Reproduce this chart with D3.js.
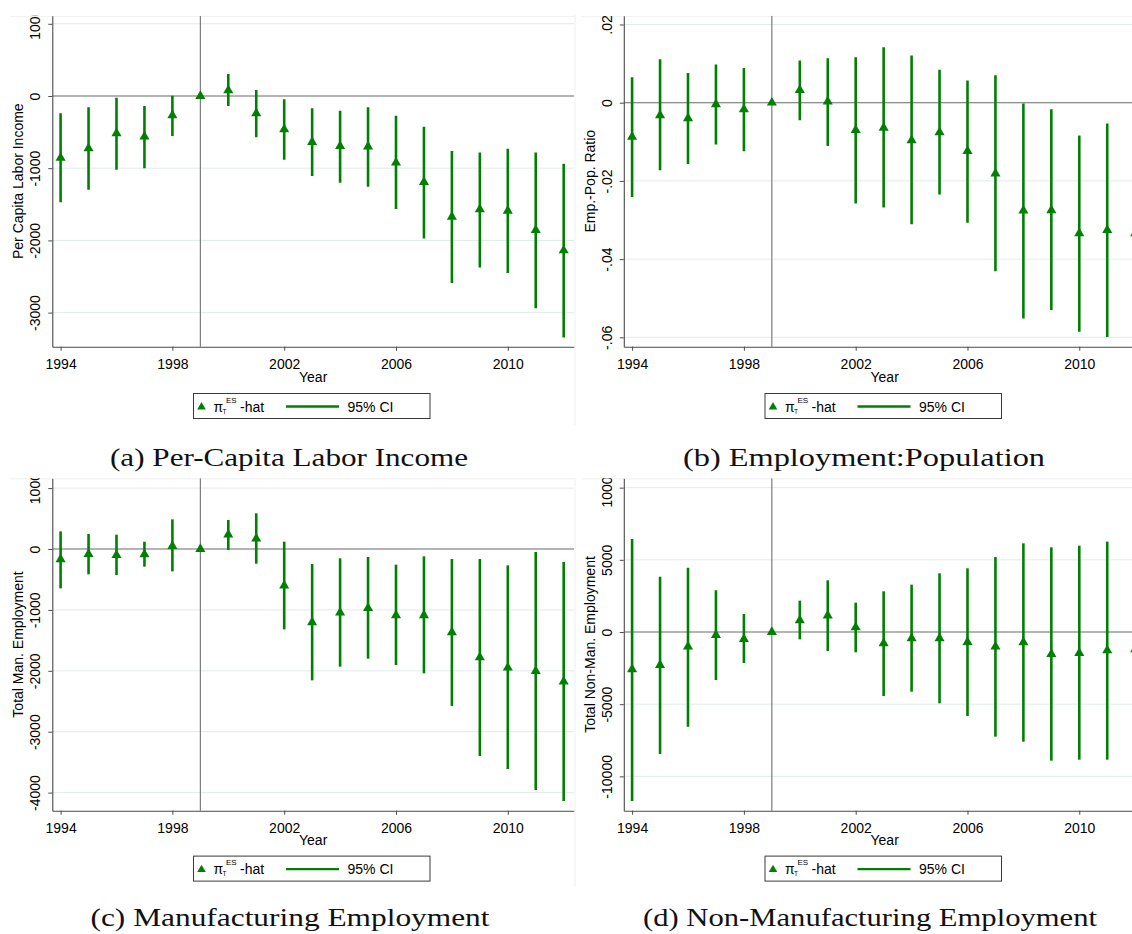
<!DOCTYPE html>
<html><head><meta charset="utf-8">
<script src="https://cdn.jsdelivr.net/npm/d3@7"></script>
<style>body{margin:0;background:#fff}svg{display:block}</style>
</head><body>
<svg id="c" width="1132" height="934"></svg>
<script>
// ---------------- data ----------------
const years = [1994,1995,1996,1997,1998,1999,2000,2001,2002,2003,2004,2005,2006,2007,2008,2009,2010,2011,2012];
const xTickYears = [1994,1998,2002,2006,2010];
const eventYear = 1999;

const incomeEst = [-855,-725,-517,-563,-268,0,79,-240,-462,-637,-693,-702,-924,-1192,-1672,-1570,-1589,-1857,-2139];
const incomeLo  = [-1473,-1298,-1021,-1002,-554,null,-139,-573,-882,-1109,-1201,-1256,-1566,-1972,-2591,-2374,-2453,-2938,-3344];
const incomeHi  = [-240,-157,-23,-139,5,null,305,83,-46,-171,-203,-157,-273,-425,-762,-781,-730,-781,-938];
const incomeTicks = [1000,0,-1000,-2000,-3000];
const incomeTickLabels = ["1000","0","-1000","-2000","-3000"];

const empEst = [-.0087,-.0032,-.0040,-.0004,-.0017,0,.0032,.0003,-.0070,-.0064,-.0096,-.0076,-.0124,-.0181,-.0276,-.0275,-.0334,-.0326,-.0334];
const empLo  = [-.0241,-.0173,-.0157,-.0107,-.0124,null,-.0045,-.0111,-.0258,-.0268,-.0311,-.0235,-.0307,-.0431,-.0552,-.0530,-.0586,-.0599,-.0620];
const empHi  = [.0065,.0111,.0076,.0098,.0089,null,.0108,.0114,.0116,.0142,.0121,.0084,.0057,.0070,-.0002,-.0017,-.0084,-.0053,-.0050];
const empTicks = [.02,0,-.02,-.04,-.06];
const empTickLabels = [".02","0","-.02","-.04","-.06"];

const manEst = [-170,-82,-99,-88,49,0,235,170,-602,-1204,-1045,-969,-1089,-1089,-1368,-1779,-1949,-2003,-2178];
const manLo  = [-646,-416,-427,-290,-367,null,-16,-241,-1319,-2157,-1932,-1801,-1905,-2042,-2578,-3399,-3612,-3957,-4138];
const manHi  = [290,246,235,120,487,null,476,586,120,-246,-153,-131,-257,-120,-164,-164,-268,-49,-213];
const manTicks = [1000,0,-1000,-2000,-3000,-4000];
const manTickLabels = ["1000","0","-1000","-2000","-3000","-4000"];

const nonEst = [-2587,-2286,-1016,-208,-485,0,808,1132,323,-785,-439,-439,-693,-1016,-716,-1524,-1455,-1270,-1200];
const nonLo  = [-11709,-8453,-6559,-3326,-2148,null,-508,-1316,-1409,-4434,-4134,-4942,-5820,-7252,-7598,-8915,-8845,-8845,-9000];
const nonHi  = [6443,3834,4457,2887,1247,null,2171,3580,2032,2818,3279,4065,4411,5196,6143,5866,5982,6259,6500];
const nonTicks = [10000,5000,0,-5000,-10000];
const nonTickLabels = ["10000","5000","0","-5000","-10000"];

const yTitles = ["Per Capita Labor Income","Emp.-Pop. Ratio","Total Man. Employment","Total Non-Man. Employment"];
const captions = ["(a) Per-Capita Labor Income","(b) Employment:Population","(c) Manufacturing Employment","(d) Non-Manufacturing Employment"];
const xTitle = "Year";
const legendCI = "95% CI";

// ---------------- layout ----------------
const GREEN = "#008000";
const FONT = "'Liberation Sans', Arial, sans-serif";
const panels = [
  {est:incomeEst, lo:incomeLo, hi:incomeHi, ticks:incomeTicks, labels:incomeTickLabels, yDom:[-3472,1112], ox:0,     top:15.7,  bottom:346.7, capX:289, capY:466, capLen:358},
  {est:empEst,    lo:empLo,    hi:empHi,    ticks:empTicks,    labels:empTickLabels,    yDom:[-0.0624,0.02225], ox:571.5, top:15.7, bottom:346.7, capX:864, capY:466, capLen:362},
  {est:manEst,    lo:manLo,    hi:manHi,    ticks:manTicks,    labels:manTickLabels,    yDom:[-4297,1161], ox:0,     top:478.3, bottom:810.7, capX:290, capY:926, capLen:399},
  {est:nonEst,    lo:nonLo,    hi:nonHi,    ticks:nonTicks,    labels:nonTickLabels,    yDom:[-12380,10648], ox:571.5, top:478.3, bottom:810.7, capX:870, capY:926, capLen:454}
];

const svg = d3.select("#c");
svg.append("rect").attr("width",1132).attr("height",934).attr("fill","#fff");
const defs = svg.append("defs");

panels.forEach((p, i) => {
  const ox = p.ox;
  const dy = p.top - 15.7; // vertical offset of the panel
  const left = ox + 52.3, right = ox + 574;
  const x = d3.scaleLinear().domain([1993.703, 2012.369]).range([left, right]);
  const y = d3.scaleLinear().domain(p.yDom).range([p.bottom, p.top]);

  defs.append("clipPath").attr("id","clip"+i).append("rect")
    .attr("x", ox).attr("y", p.top).attr("width", 578).attr("height", 420);
  const g = svg.append("g").attr("clip-path","url(#clip"+i+")");

  // faint frame line of the panel image
  g.append("line").attr("x1",ox+10).attr("x2",ox+575).attr("y1",p.top+0.5).attr("y2",p.top+0.5)
    .attr("stroke","#ececec").attr("stroke-width",1);

  // gridlines
  g.append("g").selectAll("line").data(p.ticks.filter(t => t !== 0)).join("line")
    .attr("x1", left).attr("x2", right)
    .attr("y1", d => y(d)).attr("y2", d => y(d))
    .attr("stroke","#e2eaec").attr("stroke-width",1);

  // zero line
  g.append("line").attr("x1",left).attr("x2",right).attr("y1",y(0)).attr("y2",y(0))
    .attr("stroke","#6a6a6a").attr("stroke-width",1.1);
  // event line
  g.append("line").attr("x1",x(eventYear)).attr("x2",x(eventYear)).attr("y1",p.top).attr("y2",p.bottom)
    .attr("stroke","#707070").attr("stroke-width",1.1);

  // y axis
  const ya = d3.axisLeft(y).tickValues(p.ticks).tickFormat((d,k) => p.labels[k]).tickSizeInner(4).tickSizeOuter(0);
  const gy = g.append("g").attr("transform",`translate(${left},0)`).call(ya);
  gy.select(".domain").attr("stroke","#4a4a4a").attr("stroke-width",1.1);
  gy.selectAll(".tick line").attr("stroke","#4a4a4a");
  gy.selectAll(".tick text")
    .attr("x",null).attr("dy",null).attr("text-anchor","middle")
    .attr("transform","translate(-12.3,0) rotate(-90)")
    .attr("font-family",FONT).attr("font-size",14).attr("fill","#000");

  // x axis
  const xa = d3.axisBottom(x).tickValues(xTickYears).tickFormat(d3.format("d")).tickSizeInner(4).tickSizeOuter(0);
  const gx = g.append("g").attr("transform",`translate(0,${p.bottom})`).call(xa);
  gx.select(".domain").attr("stroke","#4a4a4a").attr("stroke-width",1.1);
  gx.selectAll(".tick line").attr("stroke","#4a4a4a");
  gx.selectAll(".tick text").attr("y",null).attr("dy",null)
    .attr("transform","translate(0,22.3)")
    .attr("font-family",FONT).attr("font-size",14).attr("fill","#000");

  // axis titles
  g.append("text").attr("transform",`translate(${ox+23},${(p.top+p.bottom)/2}) rotate(-90)`)
    .attr("text-anchor","middle").attr("font-family",FONT).attr("font-size",14).text(yTitles[i]);
  g.append("text").attr("x",(left+right)/2).attr("y",382+dy)
    .attr("text-anchor","middle").attr("font-family",FONT).attr("font-size",14).text(xTitle);

  // CI lines
  const rows = years.map((yr,k) => ({yr, est:p.est[k], lo:p.lo[k], hi:p.hi[k]}));
  g.append("g").selectAll("line").data(rows.filter(r => r.lo !== null)).join("line")
    .attr("x1", d => x(d.yr)).attr("x2", d => x(d.yr))
    .attr("y1", d => y(d.lo)).attr("y2", d => y(d.hi))
    .attr("stroke", GREEN).attr("stroke-width", 2.6);
  // point estimates
  const tri = d3.symbol(d3.symbolTriangle, 44);
  g.append("g").selectAll("path").data(rows).join("path")
    .attr("d", tri).attr("transform", d => `translate(${x(d.yr)},${y(d.est)})`)
    .attr("fill", GREEN);

  // legend
  const lg = g.append("g").attr("transform",`translate(${ox},${dy})`);
  lg.append("rect").attr("x",193.5).attr("y",393.5).attr("width",236.5).attr("height",25)
    .attr("fill","#fff").attr("stroke","#3a3a3a").attr("stroke-width",1);
  lg.append("path").attr("d", d3.symbol(d3.symbolTriangle, 32)).attr("transform","translate(201.5,407)").attr("fill",GREEN);
  lg.append("text").attr("x",213.5).attr("y",411.5).attr("font-family",FONT).attr("font-size",14).text("π");
  lg.append("text").attr("x",222.5).attr("y",413.5).attr("font-family",FONT).attr("font-size",6.5).text("T");
  lg.append("text").attr("x",226).attr("y",402.5).attr("font-family",FONT).attr("font-size",8).text("ES");
  lg.append("text").attr("x",240).attr("y",411.5).attr("font-family",FONT).attr("font-size",14).text("-hat");
  lg.append("line").attr("x1",286).attr("x2",339).attr("y1",406.5).attr("y2",406.5)
    .attr("stroke",GREEN).attr("stroke-width",2.4);
  lg.append("text").attr("x",347.5).attr("y",411.5).attr("font-family",FONT).attr("font-size",14).text(legendCI);

  // caption
  svg.append("text").attr("x",p.capX).attr("y",p.capY).attr("text-anchor","middle")
    .attr("font-family","'Liberation Serif', 'Times New Roman', serif").attr("font-size",26)
    .attr("textLength",p.capLen).attr("lengthAdjust","spacingAndGlyphs")
    .attr("fill","#111").text(captions[i]);
});

// faint separators between panel images
svg.append("line").attr("x1",575).attr("x2",575).attr("y1",15).attr("y2",425).attr("stroke","#efefef");
svg.append("line").attr("x1",575).attr("x2",575).attr("y1",478).attr("y2",887).attr("stroke","#efefef");
</script>
</body></html>
